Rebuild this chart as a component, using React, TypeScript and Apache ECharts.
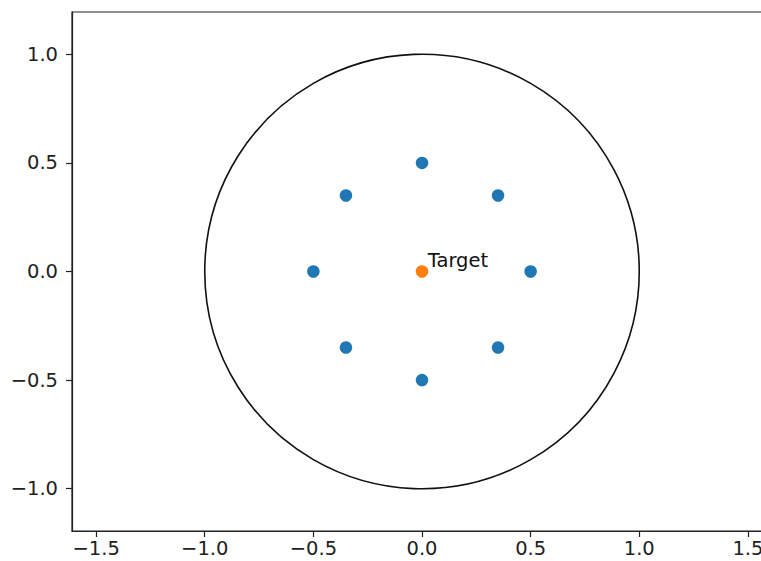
import React, { useEffect, useRef } from "react";
import * as echarts from "echarts";

// Ring of sample points around the target
const ringX = [0.5, 0.35, 0, -0.35, -0.5, -0.35, 0, 0.35];
const ringY = [0, 0.35, 0.5, 0.35, 0, -0.35, -0.5, -0.35];
// Target point
const targetX = [0];
const targetY = [0];
const targetLabel = "Target";
// Boundary circle: center x, center y, radius
const boundary = [[0, 0, 1]];
// Axis ticks
const xTicks = [-1.5, -1.0, -0.5, 0.0, 0.5, 1.0, 1.5];
const yTicks = [-1.0, -0.5, 0.0, 0.5, 1.0];
const xLimits = [-1.611, 1.611];
const yLimits = [-1.195, 1.195];

const FONT = "DejaVu Sans";
const FONT_SIZE = 19.5;
const fmt = (v: number) => v.toFixed(1).replace("-", "\u2212");

export default function App() {
  const ref = useRef<HTMLDivElement>(null);

  useEffect(() => {
    if (!ref.current) return;
    const chart = echarts.init(ref.current, undefined, { renderer: "svg" });

    const axisCommon = {
      axisLine: { show: true, onZero: false, lineStyle: { color: "#222", width: 1.2 } },
      axisTick: { show: true, length: 6, inside: false, lineStyle: { color: "#222", width: 1.2 } },
      splitLine: { show: false },
    };

    chart.setOption({
      animation: false,
      backgroundColor: "#ffffff",
      grid: {
        left: 72,
        top: 12,
        width: 700,
        height: 519,
        containLabel: false,
        outerBoundsMode: "none",
        show: true,
        borderColor: "#222",
        borderWidth: 1.2,
        backgroundColor: "transparent",
      },
      xAxis: {
        type: "value",
        min: xLimits[0],
        max: xLimits[1],
        ...axisCommon,
        axisTick: { ...axisCommon.axisTick, customValues: xTicks },
        axisLabel: {
          customValues: xTicks,
          formatter: fmt,
          fontFamily: FONT,
          fontSize: FONT_SIZE,
          lineHeight: 17,
          color: "#222",
          margin: 9,
        },
      },
      yAxis: {
        type: "value",
        min: yLimits[0],
        max: yLimits[1],
        ...axisCommon,
        axisTick: { ...axisCommon.axisTick, customValues: yTicks },
        axisLabel: {
          customValues: yTicks,
          formatter: fmt,
          fontFamily: FONT,
          fontSize: FONT_SIZE,
          color: "#222",
          margin: 14,
        },
      },
      series: [
        {
          type: "custom",
          data: boundary,
          z: 1,
          renderItem: (params: any, api: any) => {
            const c = api.coord([api.value(0), api.value(1)]);
            const r = api.size([api.value(2), 0])[0];
            return {
              type: "circle",
              shape: { cx: c[0], cy: c[1], r },
              style: { fill: "none", stroke: "#111", lineWidth: 1.6 },
            };
          },
        },
        {
          type: "scatter",
          data: ringX.map((x, i) => [x, ringY[i]]),
          symbolSize: 12.5,
          itemStyle: { color: "#1f77b4", opacity: 1 },
          z: 3,
        },
        {
          type: "scatter",
          data: targetX.map((x, i) => [x, targetY[i]]),
          symbolSize: 12.5,
          itemStyle: { color: "#ff7f0e", opacity: 1 },
          z: 4,
          label: {
            show: true,
            formatter: targetLabel,
            position: [12, -15],
            fontFamily: FONT,
            fontSize: FONT_SIZE,
            color: "#111",
          },
        },
      ],
    });

    return () => chart.dispose();
  }, []);

  return (
    <div
      style={{
        position: "fixed",
        left: 0,
        top: 0,
        width: 761,
        height: 561,
        overflow: "hidden",
        background: "#fff",
      }}
    >
      <div ref={ref} style={{ width: 780, height: 561 }} />
    </div>
  );
}
